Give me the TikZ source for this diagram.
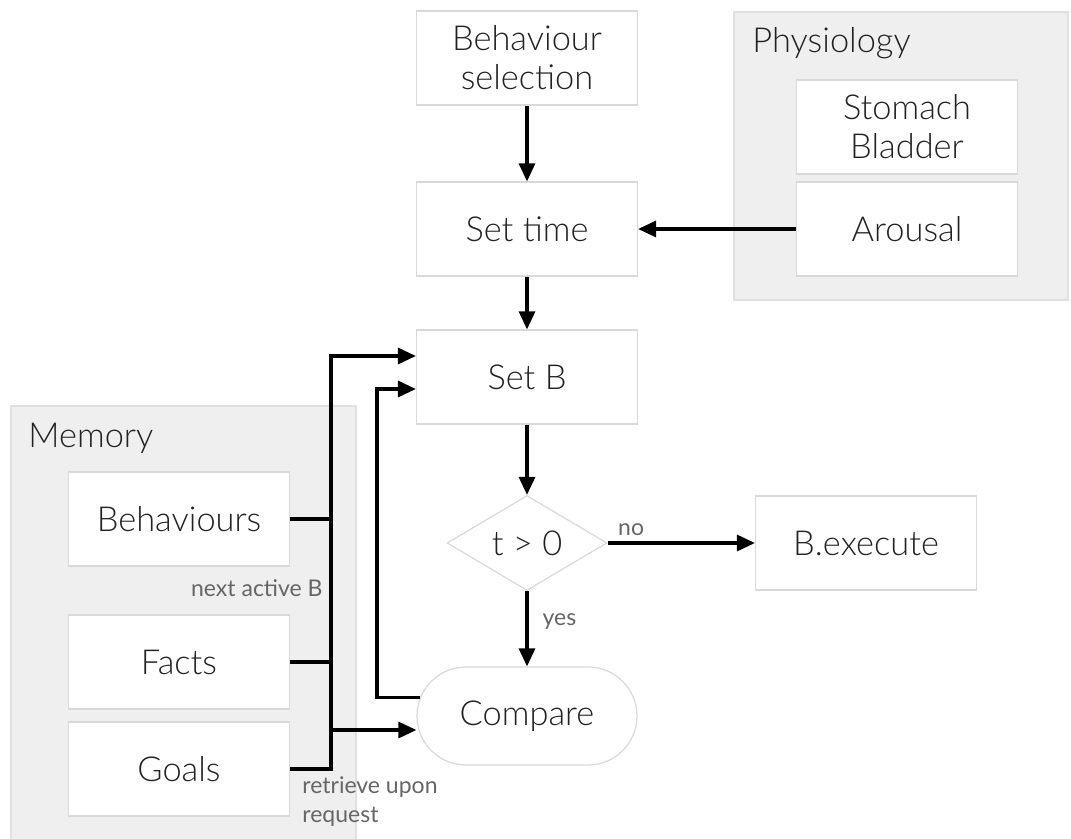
\documentclass[tikz,border=0pt]{standalone}
\usepackage{fontspec}
\setmainfont{Lato}[UprightFont=* Light]
\newfontfamily\lblfont{Lato}
\usetikzlibrary{shapes.geometric,shapes.misc,arrows.meta}
\definecolor{boxline}{HTML}{D9D9D9}
\definecolor{grpfill}{HTML}{EFEFEF}
\definecolor{grpline}{HTML}{E0E0E0}
\definecolor{txt}{HTML}{222222}
\definecolor{lbltxt}{HTML}{666666}
\newcommand\mainfs{\fontsize{17.2}{19.5}\selectfont}
\newcommand\lblfs{\lblfont\fontsize{11.5}{14.5}\selectfont}
\begin{document}
\begin{tikzpicture}[x=0.5pt,y=-0.5pt,
 box/.style={draw=boxline, line width=0.6pt, fill=white, minimum width=110.5pt, minimum height=47pt, inner sep=0pt, align=center, text=txt, font=\mainfs},
 grp/.style={fill=grpfill, draw=grpline, line width=0.6pt},
 grplbl/.style={anchor=base west, inner sep=0pt, text=txt, font=\mainfs},
 lbl/.style={inner sep=0pt, text=lbltxt, font=\lblfs},
 conn/.style={line width=1.6pt, black},
 arr/.style={conn, -{Triangle[length=9pt,width=8pt]}},
]
\useasboundingbox (0,0) rectangle (1071,839);
\fill[white] (0,0) rectangle (1071,839);

% groups
\filldraw[grp] (734,12) rectangle (1068,300);
\fill[grpfill] (11,406) rectangle (356,839);
\draw[grpline, line width=0.6pt] (11,839) -- (11,406) -- (356,406) -- (356,839);
\node[grplbl] (phys) at (752,53) {Physiology};
\node[grplbl] (mem) at (28,448) {Memory};

% nodes
\node[box] (bsel) at (527,58) {Behaviour\\selection};
\node[box] (settime) at (527,229) {Set time};
\node[box] (setB) at (527,377) {Set B};
\node[box, diamond, aspect=1.7, minimum width=80pt, minimum height=47.5pt] (dia) at (527,543) {t > 0};
\node[box] (bexec) at (866,543) {B.execute};
\node[box, rounded rectangle, minimum width=110pt, minimum height=49pt] (cmp) at (527,716) {Compare};
\node[box] (stom) at (907,127) {Stomach\\Bladder};
\node[box] (arou) at (907,229) {Arousal};
\node[box] (behs) at (179,519) {Behaviours};
\node[box] (facts) at (179,662) {Facts};
\node[box] (goals) at (179,769) {Goals};

% labels
\node[lbl, anchor=east] (nab) at (323,588) {next active B};
\node[lbl, anchor=north west, align=left] (rur) at (302,776) {retrieve upon\\request};

% connectors
\coordinate (bustop) at (331,356);
\coordinate (busc) at (331,730);
\coordinate (retx) at (377,389);
\draw[arr] (bsel.south) -- (settime.north);
\draw[arr] (arou.west) -- (settime.east);
\draw[arr] (settime.south) -- (setB.north);
\draw[arr] (setB.south) -- (dia.north);
\draw[arr] (dia.east) -- node[lbl, pos=0, anchor=south west, xshift=4.5pt, yshift=3pt] {no} (bexec.west);
\draw[arr] (dia.south) -- node[lbl, pos=0.4, anchor=west, xshift=7pt] {yes} (cmp.north);
\draw[arr] (goals.east) -| (bustop) -- (setB.west |- bustop);
\draw[conn] (behs.east) -- (behs.east -| bustop);
\draw[conn] (facts.east) -- (facts.east -| bustop);
\draw[arr] (busc) -- (busc -| cmp.west);
\draw[arr] (cmp.170) -| (retx) -- (setB.west |- retx);
\end{tikzpicture}
\end{document}
